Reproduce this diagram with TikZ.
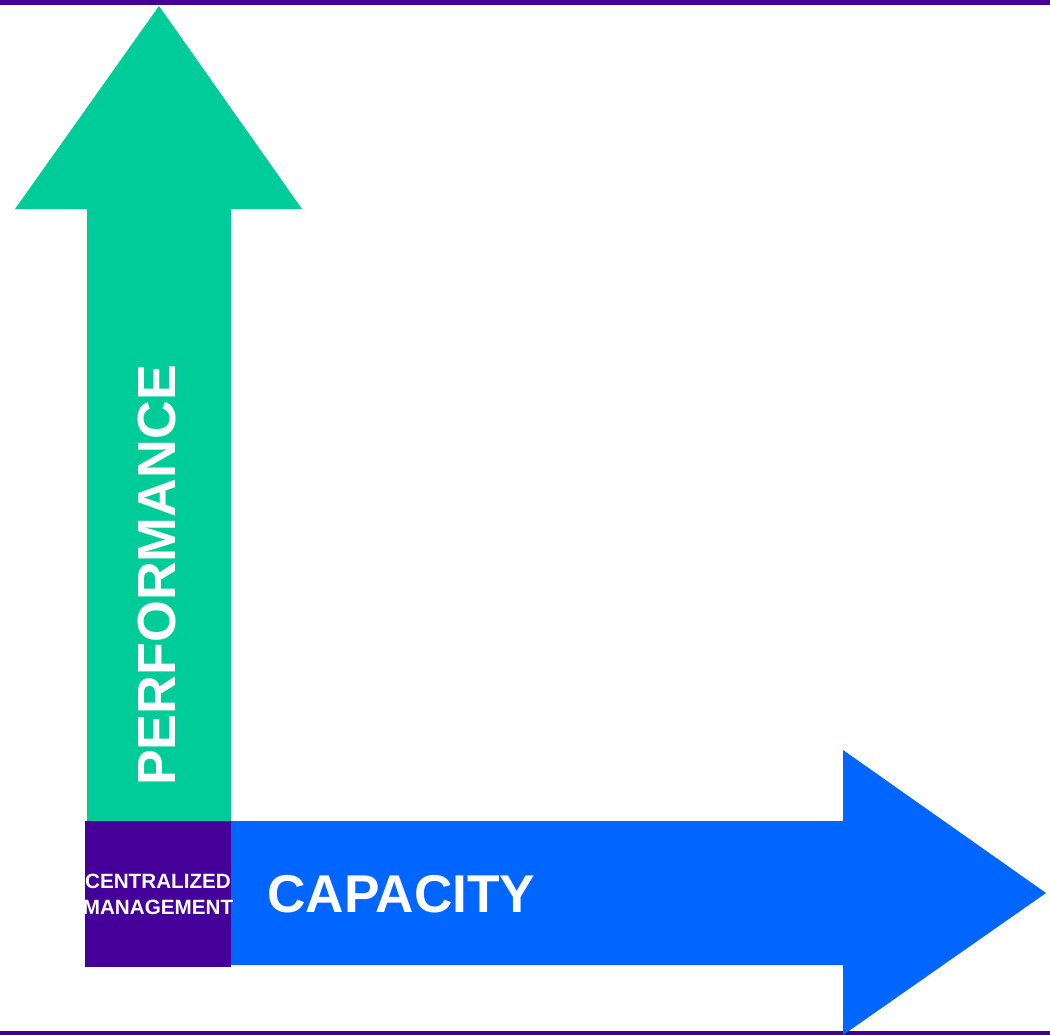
\documentclass[tikz,border=0pt]{standalone}
\usepackage{xcolor}
\usepackage{fontspec}
\setmainfont{Liberation Sans}
\usepackage{tikz}

\definecolor{perfgreen}{RGB}{0,204,153}
\definecolor{capblue}{RGB}{0,102,255}
\definecolor{mgmtpurple}{RGB}{68,0,153}

\begin{document}
\begin{tikzpicture}[x=0.75pt,y=0.75pt,yscale=-1,xscale=1]
	\useasboundingbox (0,0) rectangle (1050,1035); %set diagram size 1050 x 1035
	
	%Top Rule
	\fill [mgmtpurple] (0,0) rectangle (1050,5) ;
	%Bottom Rule
	\fill [mgmtpurple] (0,1031) rectangle (1050,1035) ;
	%Up Arrow
	\fill [perfgreen] (87,821) -- (87,209) -- (15,209) -- (159,6) -- (302,209) -- (231,209) -- (231,821) -- cycle ;
	%Right Arrow
	\fill [capblue] (231,821) -- (843,821) -- (843,750) -- (1046,893) -- (843,1035) -- (843,965) -- (231,965) -- cycle ;
	%Square
	\fill [mgmtpurple] (85,821) rectangle (231,967) ;
	
	% Text Node
	\draw (175,575.5) node (perf) [anchor=base][rotate=90][inner sep=0pt][text=white][font=\fontsize{40.3}{41}\selectfont\bfseries] {PERFORMANCE};
	% Text Node
	\draw (401.5,912) node (cap) [anchor=base][inner sep=0pt][text=white][font=\fontsize{39.9}{41}\selectfont\bfseries] {CAPACITY};
	% Text Node
	\draw (158,894.5) node (mgmt) [inner sep=0pt][text=white][align=center][font=\fontsize{15.5}{19.5}\selectfont\bfseries] {CENTRALIZED\\MANAGEMENT};
	
\end{tikzpicture}
\end{document}
